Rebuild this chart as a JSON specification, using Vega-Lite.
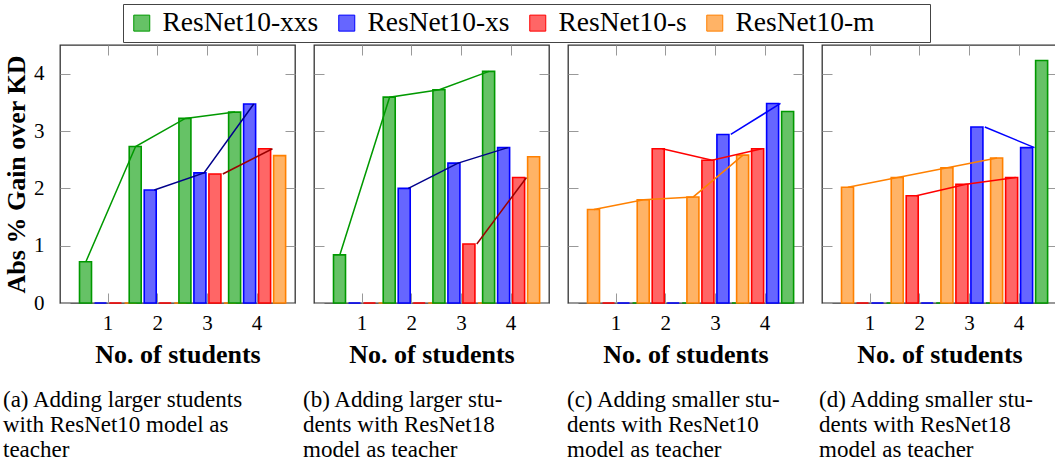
{
  "$schema": "https://vega.github.io/schema/vega-lite/v6.json",
  "padding": {"left": 2, "top": 3, "right": 0, "bottom": 0},
  "config": {
    "font": "Liberation Serif",
    "view": {"stroke": "#333", "strokeWidth": 1.3},
    "axis": {"domain": false, "tickColor": "#999", "tickWidth": 1, "grid": false, "labelColor": "black", "titleColor": "black", "labelFont": "Liberation Serif", "titleFont": "Liberation Serif"}
  },
  "data": {"values": [
    {"p": "a", "n": 1, "model": "ResNet10-xxs", "v": 0.72},
    {"p": "a", "n": 1, "model": "ResNet10-xs", "v": 0},
    {"p": "a", "n": 1, "model": "ResNet10-s", "v": 0},
    {"p": "a", "n": 1, "model": "ResNet10-m", "v": 0},
    {"p": "a", "n": 2, "model": "ResNet10-xxs", "v": 2.73},
    {"p": "a", "n": 2, "model": "ResNet10-xs", "v": 1.97},
    {"p": "a", "n": 2, "model": "ResNet10-s", "v": 0},
    {"p": "a", "n": 2, "model": "ResNet10-m", "v": 0},
    {"p": "a", "n": 3, "model": "ResNet10-xxs", "v": 3.22},
    {"p": "a", "n": 3, "model": "ResNet10-xs", "v": 2.27},
    {"p": "a", "n": 3, "model": "ResNet10-s", "v": 2.25},
    {"p": "a", "n": 3, "model": "ResNet10-m", "v": 0},
    {"p": "a", "n": 4, "model": "ResNet10-xxs", "v": 3.33},
    {"p": "a", "n": 4, "model": "ResNet10-xs", "v": 3.47},
    {"p": "a", "n": 4, "model": "ResNet10-s", "v": 2.69},
    {"p": "a", "n": 4, "model": "ResNet10-m", "v": 2.57},

    {"p": "b", "n": 1, "model": "ResNet10-xxs", "v": 0.84},
    {"p": "b", "n": 1, "model": "ResNet10-xs", "v": 0},
    {"p": "b", "n": 1, "model": "ResNet10-s", "v": 0},
    {"p": "b", "n": 1, "model": "ResNet10-m", "v": 0},
    {"p": "b", "n": 2, "model": "ResNet10-xxs", "v": 3.59},
    {"p": "b", "n": 2, "model": "ResNet10-xs", "v": 2.0},
    {"p": "b", "n": 2, "model": "ResNet10-s", "v": 0},
    {"p": "b", "n": 2, "model": "ResNet10-m", "v": 0},
    {"p": "b", "n": 3, "model": "ResNet10-xxs", "v": 3.72},
    {"p": "b", "n": 3, "model": "ResNet10-xs", "v": 2.44},
    {"p": "b", "n": 3, "model": "ResNet10-s", "v": 1.03},
    {"p": "b", "n": 3, "model": "ResNet10-m", "v": 0},
    {"p": "b", "n": 4, "model": "ResNet10-xxs", "v": 4.04},
    {"p": "b", "n": 4, "model": "ResNet10-xs", "v": 2.71},
    {"p": "b", "n": 4, "model": "ResNet10-s", "v": 2.19},
    {"p": "b", "n": 4, "model": "ResNet10-m", "v": 2.55},

    {"p": "c", "n": 1, "model": "ResNet10-m", "v": 1.63},
    {"p": "c", "n": 1, "model": "ResNet10-s", "v": 0},
    {"p": "c", "n": 1, "model": "ResNet10-xs", "v": 0},
    {"p": "c", "n": 1, "model": "ResNet10-xxs", "v": 0},
    {"p": "c", "n": 2, "model": "ResNet10-m", "v": 1.80},
    {"p": "c", "n": 2, "model": "ResNet10-s", "v": 2.69},
    {"p": "c", "n": 2, "model": "ResNet10-xs", "v": 0},
    {"p": "c", "n": 2, "model": "ResNet10-xxs", "v": 0},
    {"p": "c", "n": 3, "model": "ResNet10-m", "v": 1.85},
    {"p": "c", "n": 3, "model": "ResNet10-s", "v": 2.49},
    {"p": "c", "n": 3, "model": "ResNet10-xs", "v": 2.94},
    {"p": "c", "n": 3, "model": "ResNet10-xxs", "v": 0},
    {"p": "c", "n": 4, "model": "ResNet10-m", "v": 2.58},
    {"p": "c", "n": 4, "model": "ResNet10-s", "v": 2.69},
    {"p": "c", "n": 4, "model": "ResNet10-xs", "v": 3.48},
    {"p": "c", "n": 4, "model": "ResNet10-xxs", "v": 3.34},

    {"p": "d", "n": 1, "model": "ResNet10-m", "v": 2.02},
    {"p": "d", "n": 1, "model": "ResNet10-s", "v": 0},
    {"p": "d", "n": 1, "model": "ResNet10-xs", "v": 0},
    {"p": "d", "n": 1, "model": "ResNet10-xxs", "v": 0},
    {"p": "d", "n": 2, "model": "ResNet10-m", "v": 2.19},
    {"p": "d", "n": 2, "model": "ResNet10-s", "v": 1.87},
    {"p": "d", "n": 2, "model": "ResNet10-xs", "v": 0},
    {"p": "d", "n": 2, "model": "ResNet10-xxs", "v": 0},
    {"p": "d", "n": 3, "model": "ResNet10-m", "v": 2.36},
    {"p": "d", "n": 3, "model": "ResNet10-s", "v": 2.07},
    {"p": "d", "n": 3, "model": "ResNet10-xs", "v": 3.07},
    {"p": "d", "n": 3, "model": "ResNet10-xxs", "v": 0},
    {"p": "d", "n": 4, "model": "ResNet10-m", "v": 2.53},
    {"p": "d", "n": 4, "model": "ResNet10-s", "v": 2.19},
    {"p": "d", "n": 4, "model": "ResNet10-xs", "v": 2.71},
    {"p": "d", "n": 4, "model": "ResNet10-xxs", "v": 4.23}
  ]},
  "bounds": "flush",
  "spacing": 19,
  "resolve": {"scale": {"xOffset": "independent", "color": "independent"}},
  "hconcat": [
    {
      "width": 235, "height": 258,
      "title": {"text": ["(a) Adding larger students", "with ResNet10 model as", "teacher"], "orient": "bottom", "anchor": "start", "frame": "group", "dx": -57, "offset": 22, "fontSize": 23, "fontWeight": "normal", "font": "Liberation Serif", "lineHeight": 25, "color": "black"},
      "transform": [{"filter": "datum.p == 'a'"}],
      "layer": [
        {
          "mark": {"type": "bar", "strokeWidth": 1.6},
          "encoding": {
            "x": {"field": "n", "type": "ordinal", "scale": {"type": "band", "paddingInner": 0, "paddingOuter": 0.364, "align": 0.64},
                  "axis": {"orient": "bottom", "labelAngle": 0, "labelFontSize": 21, "labelPadding": 19, "tickSize": -10, "title": "No. of students", "titleFontSize": 26, "titleFontWeight": "bold", "titlePadding": 8}},
            "xOffset": {"field": "model", "type": "nominal", "scale": {"domain": ["ResNet10-xxs", "ResNet10-xs", "ResNet10-s", "ResNet10-m"], "range": [-5.15, 54.85], "paddingInner": 0.2, "paddingOuter": 0.1}},
            "y": {"field": "v", "type": "quantitative", "scale": {"domain": [0, 4.5], "nice": false},
                  "axis": {"orient": "left", "values": [0, 1, 2, 3, 4], "labelFontSize": 21, "labelPadding": 26, "tickSize": -10, "title": "Abs % Gain over KD", "titleFontSize": 26, "titleFontWeight": "bold", "titlePadding": 4}},
            "fill": {"field": "model", "type": "nominal", "scale": {"domain": ["ResNet10-xxs", "ResNet10-xs", "ResNet10-s", "ResNet10-m"], "range": ["#66c266", "#6666ff", "#ff6666", "#ffb366"]},
                     "legend": {"title": "\u00a0", "titleOrient": "right", "titlePadding": 50, "orient": "none", "legendX": 63, "legendY": -41, "direction": "horizontal", "columns": 4, "symbolType": "square", "symbolSize": 256, "symbolStrokeWidth": 1, "labelFont": "Liberation Serif", "labelFontSize": 27.5, "labelColor": "black", "labelOffset": 7, "columnPadding": 14, "padding": 5, "strokeColor": "#444", "fillColor": "white", "labelLimit": 0}},
            "stroke": {"field": "model", "type": "nominal", "scale": {"domain": ["ResNet10-xxs", "ResNet10-xs", "ResNet10-s", "ResNet10-m"], "range": ["#009900", "#0000ff", "#ff0000", "#ff8000"]},
                     "legend": {"title": "\u00a0", "titleOrient": "right", "titlePadding": 50, "orient": "none", "legendX": 63, "legendY": -41, "direction": "horizontal", "columns": 4, "symbolType": "square", "symbolSize": 256, "symbolStrokeWidth": 1, "labelFont": "Liberation Serif", "labelFontSize": 27.5, "labelColor": "black", "labelOffset": 7, "columnPadding": 14, "padding": 5, "strokeColor": "#444", "fillColor": "white", "labelLimit": 0}}
          }
        },
        {
          "transform": [{"filter": "datum.v > 0"}],
          "mark": {"type": "line", "strokeWidth": 1.5},
          "encoding": {
            "x": {"field": "n", "type": "ordinal", "axis": {"orient": "top", "labels": false, "tickSize": -10, "title": null}},
            "xOffset": {"field": "model", "type": "nominal", "scale": {"domain": ["ResNet10-xxs", "ResNet10-xs", "ResNet10-s", "ResNet10-m"], "range": [0.85, 60.85], "paddingInner": 0.2, "paddingOuter": 0.1}},
            "y": {"field": "v", "type": "quantitative", "axis": {"orient": "right", "values": [0, 1, 2, 3, 4], "labels": false, "tickSize": -10, "title": null}},
            "color": {"field": "model", "type": "nominal", "scale": {"domain": ["ResNet10-xxs", "ResNet10-xs", "ResNet10-s", "ResNet10-m"], "range": ["#009900", "#00008b", "#9b0000", "#ff8000"]}, "legend": null}
          }
        }
      ],
      "resolve": {"scale": {"xOffset": "independent"}, "axis": {"x": "independent", "y": "independent"}}
    },
    {
      "width": 235, "height": 258,
      "title": {"text": ["(b) Adding larger stu-", "dents with ResNet18", "model as teacher"], "orient": "bottom", "anchor": "start", "frame": "group", "dx": -11, "offset": 22, "fontSize": 23, "fontWeight": "normal", "font": "Liberation Serif", "lineHeight": 25, "color": "black"},
      "transform": [{"filter": "datum.p == 'b'"}],
      "layer": [
        {
          "mark": {"type": "bar", "strokeWidth": 1.6},
          "encoding": {
            "x": {"field": "n", "type": "ordinal", "scale": {"type": "band", "paddingInner": 0, "paddingOuter": 0.364, "align": 0.64},
                  "axis": {"orient": "bottom", "labelAngle": 0, "labelFontSize": 21, "labelPadding": 19, "tickSize": -10, "title": "No. of students", "titleFontSize": 26, "titleFontWeight": "bold", "titlePadding": 8}},
            "xOffset": {"field": "model", "type": "nominal", "scale": {"domain": ["ResNet10-xxs", "ResNet10-xs", "ResNet10-s", "ResNet10-m"], "range": [-5.15, 54.85], "paddingInner": 0.2, "paddingOuter": 0.1}},
            "y": {"field": "v", "type": "quantitative", "scale": {"domain": [0, 4.5], "nice": false},
                  "axis": {"orient": "left", "values": [0, 1, 2, 3, 4], "labels": false, "tickSize": -10, "title": null}},
            "fill": {"field": "model", "type": "nominal", "legend": {"title": "\u00a0", "titleOrient": "right", "titlePadding": 50, "orient": "none", "legendX": 63, "legendY": -41, "direction": "horizontal", "columns": 4, "symbolType": "square", "symbolSize": 256, "symbolStrokeWidth": 1, "labelFont": "Liberation Serif", "labelFontSize": 27.5, "labelColor": "black", "labelOffset": 7, "columnPadding": 14, "padding": 5, "strokeColor": "#444", "fillColor": "white", "labelLimit": 0}},
            "stroke": {"field": "model", "type": "nominal", "legend": {"title": "\u00a0", "titleOrient": "right", "titlePadding": 50, "orient": "none", "legendX": 63, "legendY": -41, "direction": "horizontal", "columns": 4, "symbolType": "square", "symbolSize": 256, "symbolStrokeWidth": 1, "labelFont": "Liberation Serif", "labelFontSize": 27.5, "labelColor": "black", "labelOffset": 7, "columnPadding": 14, "padding": 5, "strokeColor": "#444", "fillColor": "white", "labelLimit": 0}}
          }
        },
        {
          "transform": [{"filter": "datum.v > 0"}],
          "mark": {"type": "line", "strokeWidth": 1.5},
          "encoding": {
            "x": {"field": "n", "type": "ordinal", "axis": {"orient": "top", "labels": false, "tickSize": -10, "title": null}},
            "xOffset": {"field": "model", "type": "nominal", "scale": {"domain": ["ResNet10-xxs", "ResNet10-xs", "ResNet10-s", "ResNet10-m"], "range": [0.85, 60.85], "paddingInner": 0.2, "paddingOuter": 0.1}},
            "y": {"field": "v", "type": "quantitative", "axis": {"orient": "right", "values": [0, 1, 2, 3, 4], "labels": false, "tickSize": -10, "title": null}},
            "color": {"field": "model", "type": "nominal", "scale": {"domain": ["ResNet10-xxs", "ResNet10-xs", "ResNet10-s", "ResNet10-m"], "range": ["#009900", "#00008b", "#9b0000", "#ff8000"]}, "legend": null}
          }
        }
      ],
      "resolve": {"scale": {"xOffset": "independent"}, "axis": {"x": "independent", "y": "independent"}}
    },
    {
      "width": 235, "height": 258,
      "title": {"text": ["(c) Adding smaller stu-", "dents with ResNet10", "model as teacher"], "orient": "bottom", "anchor": "start", "frame": "group", "dx": -1, "offset": 22, "fontSize": 23, "fontWeight": "normal", "font": "Liberation Serif", "lineHeight": 25, "color": "black"},
      "transform": [{"filter": "datum.p == 'c'"}],
      "layer": [
        {
          "mark": {"type": "bar", "strokeWidth": 1.6},
          "encoding": {
            "x": {"field": "n", "type": "ordinal", "scale": {"type": "band", "paddingInner": 0, "paddingOuter": 0.364, "align": 0.64},
                  "axis": {"orient": "bottom", "labelAngle": 0, "labelFontSize": 21, "labelPadding": 19, "tickSize": -10, "title": "No. of students", "titleFontSize": 26, "titleFontWeight": "bold", "titlePadding": 8}},
            "xOffset": {"field": "model", "type": "nominal", "scale": {"domain": ["ResNet10-m", "ResNet10-s", "ResNet10-xs", "ResNet10-xxs"], "range": [-5.15, 54.85], "paddingInner": 0.2, "paddingOuter": 0.1}},
            "y": {"field": "v", "type": "quantitative", "scale": {"domain": [0, 4.5], "nice": false},
                  "axis": {"orient": "left", "values": [0, 1, 2, 3, 4], "labels": false, "tickSize": -10, "title": null}},
            "fill": {"field": "model", "type": "nominal", "legend": {"title": "\u00a0", "titleOrient": "right", "titlePadding": 50, "orient": "none", "legendX": 63, "legendY": -41, "direction": "horizontal", "columns": 4, "symbolType": "square", "symbolSize": 256, "symbolStrokeWidth": 1, "labelFont": "Liberation Serif", "labelFontSize": 27.5, "labelColor": "black", "labelOffset": 7, "columnPadding": 14, "padding": 5, "strokeColor": "#444", "fillColor": "white", "labelLimit": 0}},
            "stroke": {"field": "model", "type": "nominal", "legend": {"title": "\u00a0", "titleOrient": "right", "titlePadding": 50, "orient": "none", "legendX": 63, "legendY": -41, "direction": "horizontal", "columns": 4, "symbolType": "square", "symbolSize": 256, "symbolStrokeWidth": 1, "labelFont": "Liberation Serif", "labelFontSize": 27.5, "labelColor": "black", "labelOffset": 7, "columnPadding": 14, "padding": 5, "strokeColor": "#444", "fillColor": "white", "labelLimit": 0}}
          }
        },
        {
          "transform": [{"filter": "datum.v > 0"}],
          "mark": {"type": "line", "strokeWidth": 1.5},
          "encoding": {
            "x": {"field": "n", "type": "ordinal", "axis": {"orient": "top", "labels": false, "tickSize": -10, "title": null}},
            "xOffset": {"field": "model", "type": "nominal", "scale": {"domain": ["ResNet10-m", "ResNet10-s", "ResNet10-xs", "ResNet10-xxs"], "range": [0.85, 60.85], "paddingInner": 0.2, "paddingOuter": 0.1}},
            "y": {"field": "v", "type": "quantitative", "axis": {"orient": "right", "values": [0, 1, 2, 3, 4], "labels": false, "tickSize": -10, "title": null}},
            "color": {"field": "model", "type": "nominal", "scale": {"domain": ["ResNet10-xxs", "ResNet10-xs", "ResNet10-s", "ResNet10-m"], "range": ["#009900", "#0000ff", "#ff0000", "#ff8000"]}, "legend": null}
          }
        }
      ],
      "resolve": {"scale": {"xOffset": "independent"}, "axis": {"x": "independent", "y": "independent"}}
    },
    {
      "width": 235, "height": 258,
      "title": {"text": ["(d) Adding smaller stu-", "dents with ResNet18", "model as teacher"], "orient": "bottom", "anchor": "start", "frame": "group", "dx": -3, "offset": 22, "fontSize": 23, "fontWeight": "normal", "font": "Liberation Serif", "lineHeight": 25, "color": "black"},
      "transform": [{"filter": "datum.p == 'd'"}],
      "layer": [
        {
          "mark": {"type": "bar", "strokeWidth": 1.6},
          "encoding": {
            "x": {"field": "n", "type": "ordinal", "scale": {"type": "band", "paddingInner": 0, "paddingOuter": 0.364, "align": 0.64},
                  "axis": {"orient": "bottom", "labelAngle": 0, "labelFontSize": 21, "labelPadding": 19, "tickSize": -10, "title": "No. of students", "titleFontSize": 26, "titleFontWeight": "bold", "titlePadding": 8}},
            "xOffset": {"field": "model", "type": "nominal", "scale": {"domain": ["ResNet10-m", "ResNet10-s", "ResNet10-xs", "ResNet10-xxs"], "range": [-5.15, 54.85], "paddingInner": 0.2, "paddingOuter": 0.1}},
            "y": {"field": "v", "type": "quantitative", "scale": {"domain": [0, 4.5], "nice": false},
                  "axis": {"orient": "left", "values": [0, 1, 2, 3, 4], "labels": false, "tickSize": -10, "title": null}},
            "fill": {"field": "model", "type": "nominal", "legend": {"title": "\u00a0", "titleOrient": "right", "titlePadding": 50, "orient": "none", "legendX": 63, "legendY": -41, "direction": "horizontal", "columns": 4, "symbolType": "square", "symbolSize": 256, "symbolStrokeWidth": 1, "labelFont": "Liberation Serif", "labelFontSize": 27.5, "labelColor": "black", "labelOffset": 7, "columnPadding": 14, "padding": 5, "strokeColor": "#444", "fillColor": "white", "labelLimit": 0}},
            "stroke": {"field": "model", "type": "nominal", "legend": {"title": "\u00a0", "titleOrient": "right", "titlePadding": 50, "orient": "none", "legendX": 63, "legendY": -41, "direction": "horizontal", "columns": 4, "symbolType": "square", "symbolSize": 256, "symbolStrokeWidth": 1, "labelFont": "Liberation Serif", "labelFontSize": 27.5, "labelColor": "black", "labelOffset": 7, "columnPadding": 14, "padding": 5, "strokeColor": "#444", "fillColor": "white", "labelLimit": 0}}
          }
        },
        {
          "transform": [{"filter": "datum.v > 0"}],
          "mark": {"type": "line", "strokeWidth": 1.5},
          "encoding": {
            "x": {"field": "n", "type": "ordinal", "axis": {"orient": "top", "labels": false, "tickSize": -10, "title": null}},
            "xOffset": {"field": "model", "type": "nominal", "scale": {"domain": ["ResNet10-m", "ResNet10-s", "ResNet10-xs", "ResNet10-xxs"], "range": [0.85, 60.85], "paddingInner": 0.2, "paddingOuter": 0.1}},
            "y": {"field": "v", "type": "quantitative", "axis": {"orient": "right", "values": [0, 1, 2, 3, 4], "labels": false, "tickSize": -10, "title": null}},
            "color": {"field": "model", "type": "nominal", "scale": {"domain": ["ResNet10-xxs", "ResNet10-xs", "ResNet10-s", "ResNet10-m"], "range": ["#009900", "#0000ff", "#ff0000", "#ff8000"]}, "legend": null}
          }
        }
      ],
      "resolve": {"scale": {"xOffset": "independent"}, "axis": {"x": "independent", "y": "independent"}}
    }
  ]
}
